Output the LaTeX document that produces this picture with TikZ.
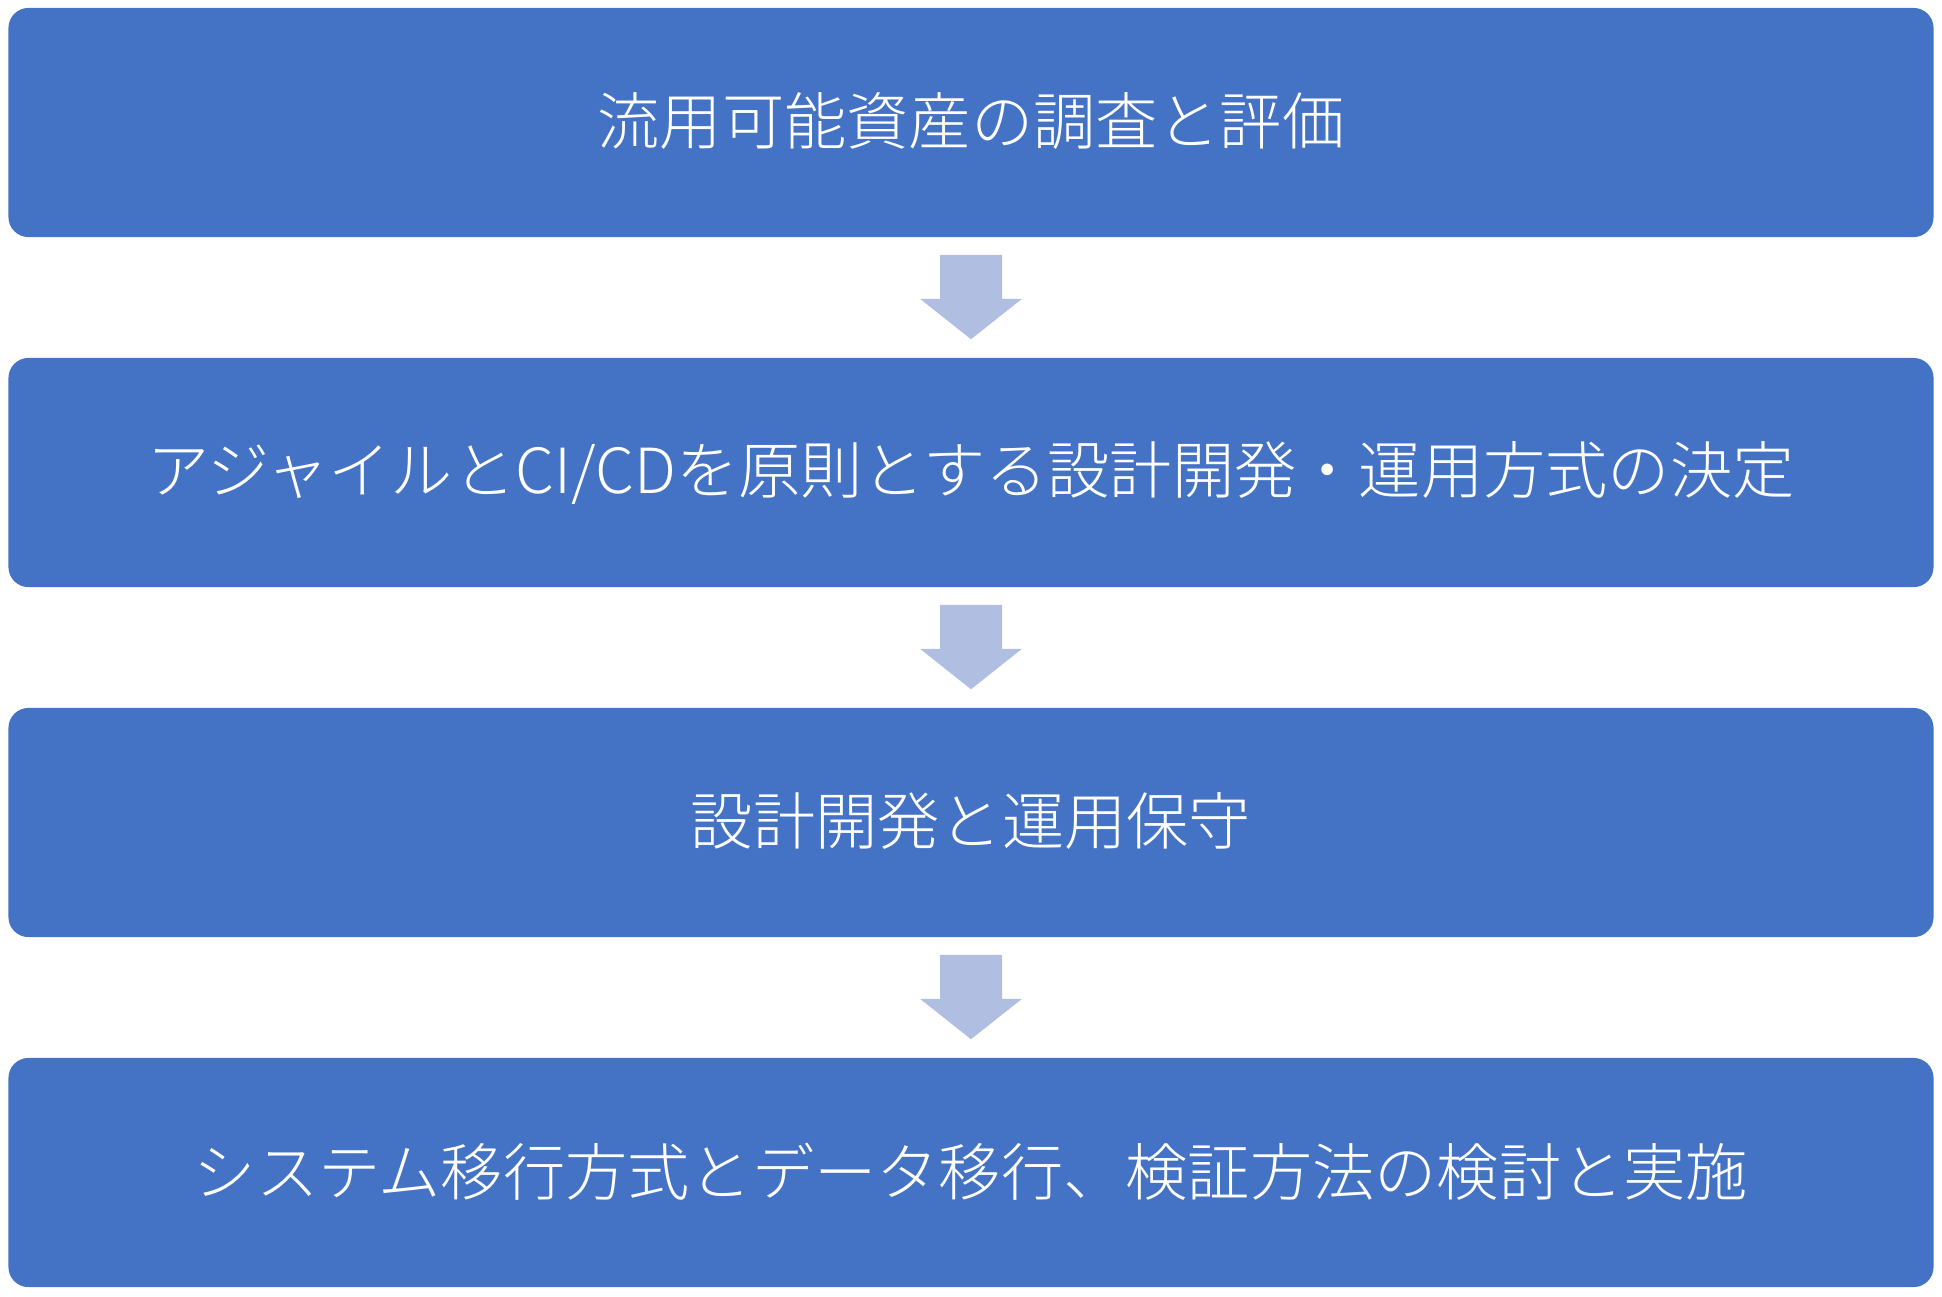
\documentclass[tikz,border=0pt]{standalone}
\usepackage{fontspec}
\newfontfamily\jpfont[UprightFont={* Light}]{Noto Sans CJK JP}
\usetikzlibrary{calc}
\definecolor{boxblue}{HTML}{4472C4}
\definecolor{arrowblue}{HTML}{B0BFE1}

\begin{document}
\begin{tikzpicture}[x=0.01cm,y=-0.01cm,step_box/.style={rectangle,rounded corners=0.2cm,fill=boxblue,text=white,minimum width=19.24cm,minimum height=2.29cm,inner sep=0pt,font=\jpfont\fontsize{17.7}{20}\selectfont},down_arrow/.style={fill=arrowblue}]
		
		\useasboundingbox (0,0) rectangle (1942,1296);
		
		\node[step_box] (1) at (971,122.5) {\raisebox{2pt}{流用可能資産の調査と評価}};
		\node[step_box] (2) at (971,472.5) {\raisebox{2pt}{アジャイルとCI/CDを原則とする設計開発・運用方式の決定}};
		\node[step_box] (3) at (971,822.5) {\raisebox{2pt}{設計開発と運用保守}};
		\node[step_box] (4) at (971,1172.5) {\raisebox{2pt}{システム移行方式とデータ移行、検証方法の検討と実施}};
		
		
		
		\foreach \a/\b in {1/2,2/3,3/4}
		\fill[down_arrow] ($(\a.south)+(-31,17)$) -- ($(\a.south)+(31,17)$) -- ($(\a.south)+(31,61)$) -- ($(\a.south)+(51,61)$) -- ($(\b.north)+(0,-18)$) -- ($(\a.south)+(-51,61)$) -- ($(\a.south)+(-31,61)$) -- cycle;
		\end{tikzpicture}
\end{document}
